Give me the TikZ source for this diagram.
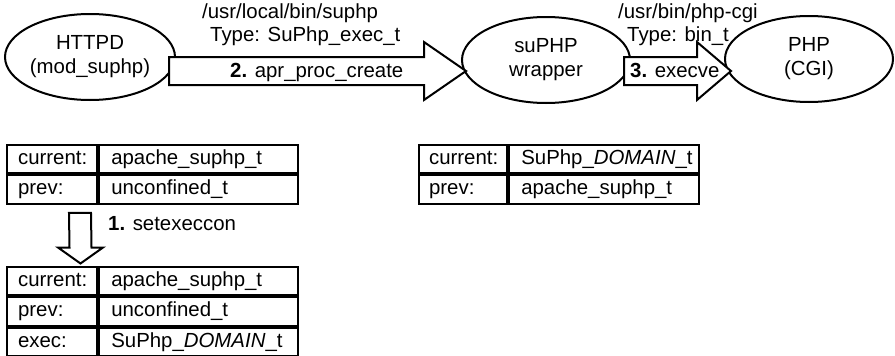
\documentclass[tikz,border=0pt]{standalone}
\usepackage{fontspec}
\setmainfont{Liberation Sans}
\usetikzlibrary{calc,shapes.geometric}
\begin{document}
\begin{tikzpicture}[x=1pt,y=-1pt,
  font=\fontsize{20.4}{24}\selectfont,
  proc/.style={draw, line width=2pt, ellipse, fill=white, inner sep=0pt,
    minimum width=170pt, minimum height=86pt, align=center},
  blockarrow/.style={draw, line width=2pt, fill=white, line join=miter},
  lbl/.style={inner sep=0pt, anchor=west, text height=14.9pt, text depth=4.3pt},
  cell/.style={draw, line width=2.2pt, anchor=north west, minimum height=28.5pt,
    inner ysep=0pt, text height=14.9pt, text depth=4.3pt, align=left},
  keycell/.style={cell, text width=68pt, inner xsep=11pt},
  valcell/.style={cell, text width=175pt, inner xsep=12pt},
  keycellb/.style={cell, text width=68pt, inner xsep=10pt},
  valcellb/.style={cell, text width=166pt, inner xsep=12pt}]
\useasboundingbox (0,0) rectangle (895,356);

% processes
\node[proc] (httpd) at (90,57) {HTTPD\\(mod\_suphp)};
\node[proc, minimum width=168pt] (wrap) at (546,60) {suPHP\\wrapper};
\node[proc, minimum width=168pt] (php) at (809,59) {PHP\\(CGI)};

% labels above the arrows
\node[lbl] (path1) at (202,13) {/usr/local/bin/suphp};
\node[lbl] (type1) at (210,36) {Type: SuPhp\_exec\_t};
\node[lbl] (path2) at (618,13) {/usr/bin/php-cgi};
\node[lbl] (type2) at (627,36) {Type: bin\_t};

% 2. apr_proc_create
\coordinate (a2s) at ($(httpd.east)+(-7,14)$);
\coordinate (a2t) at ($(wrap.west)+(5,11)$);
\draw[blockarrow] ($(a2s)+(0,-14)$) -- ($(a2t)+(-42,-14)$) -- ($(a2t)+(-42,-29)$)
  -- (a2t) -- ($(a2t)+(-42,29)$) -- ($(a2t)+(-42,14)$) -- ($(a2s)+(0,14)$) -- cycle;
\node[lbl] (call2) at (230,72.5) {\textbf{2.} apr\_proc\_create};

% 3. execve
\coordinate (a3s) at ($(wrap.east)+(-7,11)$);
\coordinate (a3t) at ($(php.west)+(7,12)$);
\draw[blockarrow] ($(a3s)+(0,-14)$) -- ($(a3t)+(-34,-14)$) -- ($(a3t)+(-34,-29)$)
  -- (a3t) -- ($(a3t)+(-34,29)$) -- ($(a3t)+(-34,14)$) -- ($(a3s)+(0,14)$) -- cycle;
\node[lbl] (call3) at (630,72.5) {\textbf{3.} execve};

% context before setexeccon
\node[keycell] (t1k1) at (6,143.5) {current:};
\node[valcell] (t1v1) at (t1k1.north east) {apache\_suphp\_t};
\node[keycell] (t1k2) at (t1k1.south west) {prev:};
\node[valcell] (t1v2) at (t1k2.north east) {unconfined\_t};

% context of the wrapper
\node[keycellb] (t2k1) at (418,143.5) {current:};
\node[valcellb] (t2v1) at (t2k1.north east) {SuPhp\_\textit{DOMAIN}\_t};
\node[keycellb] (t2k2) at (t2k1.south west) {prev:};
\node[valcellb] (t2v2) at (t2k2.north east) {apache\_suphp\_t};

% context after setexeccon
\node[keycell] (t3k1) at (6,265.5) {current:};
\node[valcell] (t3v1) at (t3k1.north east) {apache\_suphp\_t};
\node[keycell] (t3k2) at (t3k1.south west) {prev:};
\node[valcell] (t3v2) at (t3k2.north east) {unconfined\_t};
\node[keycell] (t3k3) at (t3k2.south west) {exec:};
\node[valcell] (t3v3) at (t3k3.north east) {SuPhp\_\textit{DOMAIN}\_t};

% 1. setexeccon
\coordinate (d1s) at ($(t1k2.south west)+(74,8)$);
\coordinate (d1t) at ($(t3k1.north west)+(74.5,-2)$);
\draw[blockarrow] ($(d1s)+(-11,0)$) -- ($(d1t)+(-11,-16)$) -- ($(d1t)+(-22.5,-16)$)
  -- (d1t) -- ($(d1t)+(22.5,-16)$) -- ($(d1t)+(11,-16)$) -- ($(d1s)+(11,0)$) -- cycle;
\node[lbl] (call1) at (108,225) {\textbf{1.} setexeccon};
\end{tikzpicture}
\end{document}
